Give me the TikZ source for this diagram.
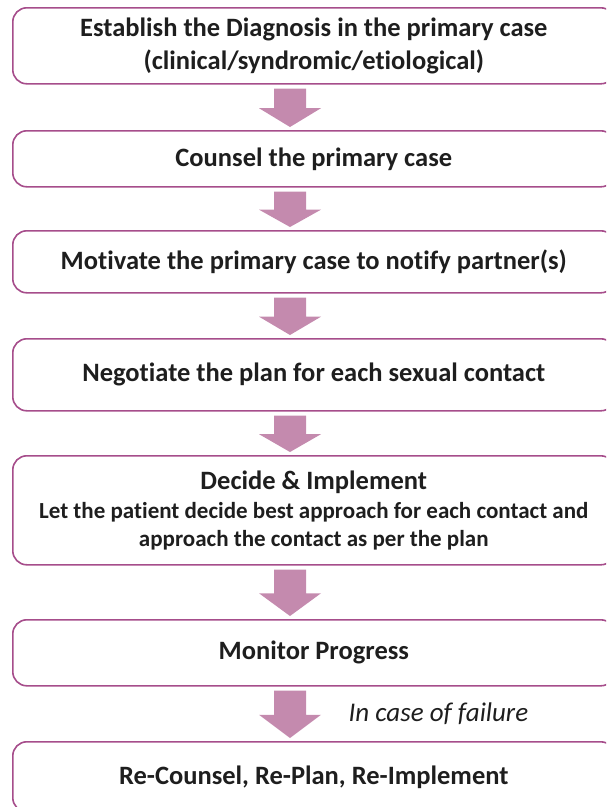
\documentclass[tikz,border=0pt]{standalone}
\usepackage{fontspec}
\setmainfont{Carlito}[Ligatures=NoCommon]
\usetikzlibrary{calc}
\definecolor{boxline}{HTML}{A64D8B}
\definecolor{arrowc}{HTML}{C48AAE}
\definecolor{txt}{HTML}{1E1E1E}
\tikzset{
  flowbox/.style={draw=boxline, line width=1.6pt, rounded corners=14pt, anchor=north west,
    minimum width=602pt, inner sep=0pt, align=center, text=txt, font=\bfseries\fontsize{26.5}{33}\selectfont},
  arrowfill/.style={fill=arrowc, draw=none}
}
\newcommand\flowarrow[2]{%
  \path let \p1=(#1.south), \p2=(#2.north), \n1={0.49*(\y1-\y2-7pt)} in
    [arrowfill] (274pt,\y1-4pt) -- (306pt,\y1-4pt) -- (306pt,\y2+3pt+\n1) -- (321pt,\y2+3pt+\n1)
    -- (290pt,\y2+3pt) -- (259pt,\y2+3pt+\n1) -- (274pt,\y2+3pt+\n1) -- cycle;}
\begin{document}
\begin{tikzpicture}[x=1pt,y=1pt]
\useasboundingbox (0,0) rectangle (606,-807);
\clip (0,0) rectangle (606,-807);
\node[flowbox, minimum height=76pt] (b1) at (12,-7) {Establish the Diagnosis in the primary case\\(clinical/syndromic/etiological)};
\node[flowbox, minimum height=56pt] (b2) at (12,-130) {Counsel the primary case};
\node[flowbox, minimum height=62pt] (b3) at (12,-230) {Motivate the primary case to notify partner(s)};
\node[flowbox, minimum height=72pt] (b4) at (12,-338) {Negotiate the plan for each sexual contact};
\node[flowbox, minimum height=109pt] (b5) at (12,-455) {Decide \& Implement\\[-4pt]{\fontsize{23}{28}\selectfont Let the patient decide best approach for each contact and}\\[-5pt]{\fontsize{23}{28}\selectfont approach the contact as per the plan}};
\node[flowbox, minimum height=66pt] (b6) at (12,-619) {Monitor Progress};
\node[flowbox, minimum height=70pt] (b7) at (12,-741) {Re-Counsel, Re-Plan, Re-Implement};
\flowarrow{b1}{b2}
\flowarrow{b2}{b3}
\flowarrow{b3}{b4}
\flowarrow{b4}{b5}
\flowarrow{b5}{b6}
\flowarrow{b6}{b7}
\node[text=txt, font=\itshape\fontsize{27}{30}\selectfont, anchor=west] (fail) at (345,-714) {In case of failure};
\end{tikzpicture}
\end{document}
